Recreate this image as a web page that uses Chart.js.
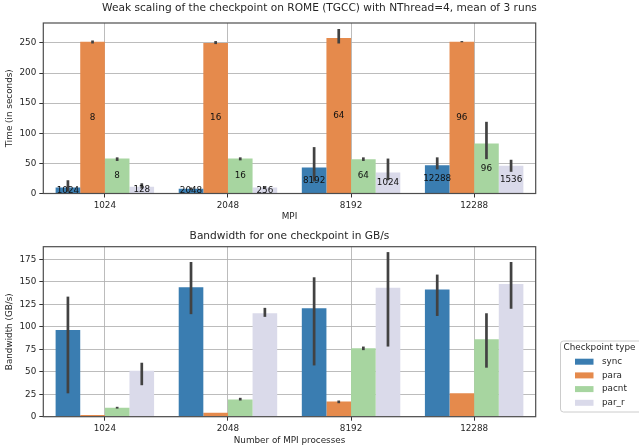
<!DOCTYPE html>
<html>
<head>
<meta charset="utf-8">
<script src="https://cdn.jsdelivr.net/npm/chart.js@4.4.1/dist/chart.umd.min.js"></script>
<style>
  html, body { margin: 0; padding: 0; background: #ffffff; overflow: hidden; width: 639px; height: 448px; }
  canvas { position: absolute; left: 0; }
  #c1 { top: 0; }
  #c2 { top: 224px; }
</style>
</head>
<body>
<canvas id="c1" width="639" height="224"></canvas>
<canvas id="c2" width="639" height="224"></canvas>
<script>
// ---------- data ----------
const categories = ['1024', '2048', '8192', '12288'];
const seriesNames = ['sync', 'para', 'pacnt', 'par_r'];

// Top chart: time (s), mean and error-bar ends
const timeSync   = [10, 8, 43, 47];
const timeSyncLo = [3, 6, 20, 40];
const timeSyncHi = [22, 10, 77, 60];
const timePara   = [252, 250, 258, 252];
const timeParaLo = [249, 248, 249, 251];
const timeParaHi = [254, 253, 273, 253];
const timePacnt   = [58, 58, 57, 83];
const timePacntLo = [54, 55, 54, 57];
const timePacntHi = [60, 60, 60, 119];
const timeParR   = [11, 10, 35, 46];
const timeParRLo = [8, 8, 22, 36];
const timeParRHi = [17, 11, 58, 56];

// Labels written inside the top bars
const labelsSync  = ['1024', '2048', '8192', '12288'];
const labelsPara  = ['8', '16', '64', '96'];
const labelsPacnt = ['8', '16', '64', '96'];
const labelsParR  = ['128', '256', '1024', '1536'];

// Bottom chart: bandwidth (GB/s)
const bwSync   = [96.5, 144, 120.5, 141.5];
const bwSyncLo = [26, 114, 57, 112];
const bwSyncHi = [133.5, 172, 155, 158];
const bwPara   = [2, 4.5, 17, 26];
const bwParaLo = [2, 4.5, 15, 26];
const bwParaHi = [2, 4.5, 18, 26];
const bwPacnt   = [10, 19, 76, 86];
const bwPacntLo = [9, 18, 74, 54.5];
const bwPacntHi = [11, 21, 78, 115];
const bwParR   = [51, 115, 143.5, 147.5];
const bwParRLo = [35, 111, 78, 120];
const bwParRHi = [60, 121, 183, 172];

const timeTicks = [0, 50, 100, 150, 200, 250];
const bwTicks = [0, 25, 50, 75, 100, 125, 150, 175];

// ---------- style ----------
const colors = ['#3a7db1', '#e58a4c', '#a7d5a0', '#dadaea'];
const FONT = 'DejaVu Sans';
const FS = 8.8;
const TFS = 10.6;
const TXT = '#262626';
const GRID = 'rgba(176,176,176,0.85)';

const errorBarPlugin = {
  id: 'errorBars',
  afterDraw(chart) {
    const ctx = chart.ctx;
    const ys = chart.scales.y;
    ctx.save();
    ctx.strokeStyle = '#424242';
    ctx.lineWidth = 2.7;
    chart.data.datasets.forEach((ds, i) => {
      const meta = chart.getDatasetMeta(i);
      meta.data.forEach((bar, j) => {
        const lo = ds.errLo[j], hi = ds.errHi[j];
        if (hi - lo < 0.01) return;
        ctx.beginPath();
        ctx.moveTo(bar.x, ys.getPixelForValue(lo));
        ctx.lineTo(bar.x, ys.getPixelForValue(hi));
        ctx.stroke();
      });
    });
    ctx.restore();
  }
};

const barLabelPlugin = {
  id: 'barLabels',
  afterDraw(chart) {
    const ctx = chart.ctx;
    ctx.save();
    ctx.font = FS + 'px "' + FONT + '"';
    ctx.fillStyle = '#111';
    ctx.textAlign = 'center';
    ctx.textBaseline = 'middle';
    chart.data.datasets.forEach((ds, i) => {
      if (!ds.barText) return;
      const meta = chart.getDatasetMeta(i);
      meta.data.forEach((bar, j) => {
        ctx.fillText(ds.barText[j], bar.x, (bar.y + bar.base) / 2);
      });
    });
    ctx.restore();
  }
};

const framePlugin = {
  id: 'frame',
  afterDraw(chart) {
    const a = chart.chartArea;
    const ctx = chart.ctx;
    ctx.save();
    ctx.strokeStyle = '#4d4d4d';
    ctx.lineWidth = 1.2;
    ctx.strokeRect(a.left, a.top, a.right - a.left, a.bottom - a.top);
    ctx.restore();
  }
};

const legendPlugin = {
  id: 'boxLegend',
  afterDraw(chart) {
    const ctx = chart.ctx;
    const x = 560.5, y = 117, w = 90, h = 71;
    ctx.save();
    ctx.fillStyle = 'rgba(255,255,255,0.8)';
    ctx.strokeStyle = '#cccccc';
    ctx.lineWidth = 1;
    ctx.beginPath();
    ctx.roundRect(x, y, w, h, 3);
    ctx.fill();
    ctx.stroke();
    ctx.font = FS + 'px "' + FONT + '"';
    ctx.fillStyle = TXT;
    ctx.textBaseline = 'middle';
    ctx.textAlign = 'left';
    ctx.fillText('Checkpoint type', 563.5, 123.5);
    chart.data.datasets.forEach((ds, i) => {
      const cy = 137.7 + i * 13.7;
      ctx.fillStyle = ds.backgroundColor;
      ctx.fillRect(575, cy - 3, 18.5, 6);
      ctx.fillStyle = TXT;
      ctx.fillText(ds.label, 602, cy);
    });
    ctx.restore();
  }
};

function makeDatasets(vals, los, his, texts) {
  return seriesNames.map((name, i) => ({
    label: name,
    data: vals[i],
    errLo: los[i],
    errHi: his[i],
    barText: texts ? texts[i] : null,
    backgroundColor: colors[i],
    borderWidth: 0,
    categoryPercentage: 0.8,
    barPercentage: 1.0
  }));
}

function baseOptions(opts) {
  return {
    responsive: false,
    animation: false,
    devicePixelRatio: 1,
    layout: { padding: { left: 0, right: 0, top: 0, bottom: 0 } },
    plugins: {
      legend: { display: false },
      tooltip: { enabled: false },
      title: {
        display: true,
        text: opts.title,
        fullSize: opts.fullSize,
        color: TXT,
        font: { family: FONT, size: TFS, weight: 'normal' },
        padding: opts.titlePad
      }
    },
    scales: {
      x: {
        type: 'category',
        offset: true,
        z: 1,
        border: { display: false },
        grid: { offset: false, color: GRID, lineWidth: 1, drawTicks: true, tickLength: 4, tickColor: '#333' },
        ticks: { color: TXT, font: { family: FONT, size: FS }, padding: 2.5 },
        title: { display: true, text: opts.xTitle, color: TXT, font: { family: FONT, size: FS }, padding: { top: 0, bottom: 2.5 } },
        afterFit: s => { s.width = s.width; s.height = opts.xHeight; }
      },
      y: {
        min: 0,
        max: opts.yMax,
        z: 1,
        border: { display: false },
        afterBuildTicks: s => { s.ticks = opts.yTicks.map(v => ({ value: v })); },
        grid: { color: GRID, lineWidth: 1, drawTicks: true, tickLength: 4, tickColor: '#333' },
        ticks: { color: TXT, font: { family: FONT, size: FS }, padding: 3 },
        title: { display: true, text: opts.yTitle, color: TXT, font: { family: FONT, size: FS }, padding: { top: 4.7, bottom: 0 } },
        afterFit: s => { s.width = 43.3; }
      },
      // empty right-hand margin (room for the legend column)
      yRight: {
        position: 'right',
        display: true,
        min: 0,
        max: 1,
        border: { display: false },
        grid: { display: false, drawOnChartArea: false },
        ticks: { display: false },
        afterFit: s => { s.width = 103.3; }
      }
    }
  };
}

new Chart(document.getElementById('c1'), {
  type: 'bar',
  data: {
    labels: categories,
    datasets: makeDatasets(
      [timeSync, timePara, timePacnt, timeParR],
      [timeSyncLo, timeParaLo, timePacntLo, timeParRLo],
      [timeSyncHi, timeParaHi, timePacntHi, timeParRHi],
      [labelsSync, labelsPara, labelsPacnt, labelsParR])
  },
  options: baseOptions({
    title: 'Weak scaling of the checkpoint on ROME (TGCC) with NThread=4, mean of 3 runs',
    fullSize: true,
    titlePad: { top: 2, bottom: 8.28 },
    xTitle: 'MPI',
    yTitle: 'Time (in seconds)',
    xHeight: 30.5,
    yMax: 283,
    yTicks: timeTicks
  }),
  plugins: [framePlugin, errorBarPlugin, barLabelPlugin]
});

new Chart(document.getElementById('c2'), {
  type: 'bar',
  data: {
    labels: categories,
    datasets: makeDatasets(
      [bwSync, bwPara, bwPacnt, bwParR],
      [bwSyncLo, bwParaLo, bwPacntLo, bwParRLo],
      [bwSyncHi, bwParaHi, bwPacntHi, bwParRHi],
      null)
  },
  options: baseOptions({
    title: 'Bandwidth for one checkpoint in GB/s',
    fullSize: false,
    titlePad: { top: 5.64, bottom: 4.34 },
    xTitle: 'Number of MPI processes',
    yTitle: 'Bandwidth (GB/s)',
    xHeight: 31.3,
    yMax: 189,
    yTicks: bwTicks
  }),
  plugins: [framePlugin, errorBarPlugin, legendPlugin]
});
</script>
</body>
</html>
